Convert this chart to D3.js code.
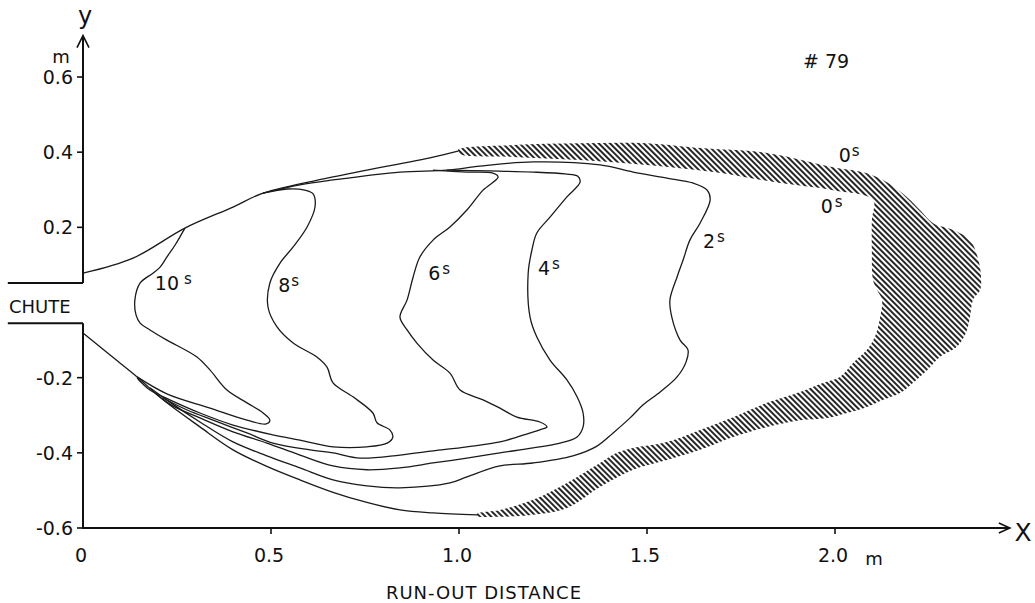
<!DOCTYPE html>
<html>
<head>
<meta charset="utf-8">
<script src="https://cdn.jsdelivr.net/npm/d3@7"></script>
<style>
  body { margin: 0; background: #fff; }
  svg text { font-family: "DejaVu Sans", sans-serif; fill: #111; }
</style>
</head>
<body>
<svg id="chart" width="1035" height="603"></svg>
<script>
// axis ticks
var xTicks = [0, 0.5, 1.0, 1.5, 2.0];
var xTickLabels = ["0", "0.5", "1.0", "1.5", "2.0"];
var yTicks = [0.6, 0.4, 0.2, -0.2, -0.4, -0.6];
var yTickLabels = ["0.6", "0.4", "0.2", "-0.2", "-0.4", "-0.6"];

// chute walls (m)
var chuteUpper = [[-0.2, 0.052], [0, 0.052]];
var chuteLower = [[-0.2, -0.055], [0, -0.055]];

// outer flow boundary leaving the chute
var envelopeUpper = [[0, 0.078], [0.133, 0.118], [0.271, 0.198], [0.399, 0.254], [0.479, 0.291],
  [0.665, 0.334], [0.931, 0.387], [0.997, 0.403]];
var envelopeLower = [[0, -0.081], [0.072, -0.140], [0.144, -0.198], [0.213, -0.259], [0.311, -0.331],
  [0.399, -0.392], [0.489, -0.436], [0.577, -0.472], [0.665, -0.505], [0.755, -0.532],
  [0.843, -0.552], [0.931, -0.560], [1.048, -0.565]];

// front position at time t (s)
var front10 = [[0.271, 0.198], [0.245, 0.153], [0.223, 0.121], [0.205, 0.094], [0.186, 0.078],
  [0.152, 0.052], [0.138, 0.007], [0.141, -0.033], [0.152, -0.055], [0.178, -0.073],
  [0.223, -0.100], [0.303, -0.145], [0.338, -0.180], [0.383, -0.233], [0.436, -0.267],
  [0.479, -0.294], [0.497, -0.313], [0.487, -0.323], [0.436, -0.313], [0.338, -0.281],
  [0.223, -0.243], [0.144, -0.198]];
var front8 = [[0.479, 0.291], [0.543, 0.302], [0.590, 0.299], [0.612, 0.289], [0.617, 0.254],
  [0.596, 0.201], [0.559, 0.148], [0.524, 0.105], [0.497, 0.052], [0.492, -0.012],
  [0.516, -0.065], [0.559, -0.108], [0.622, -0.145], [0.649, -0.172], [0.665, -0.214],
  [0.718, -0.251], [0.771, -0.294], [0.782, -0.320], [0.816, -0.339], [0.824, -0.358],
  [0.809, -0.374], [0.755, -0.384], [0.665, -0.384], [0.577, -0.366], [0.505, -0.352],
  [0.399, -0.326], [0.311, -0.294], [0.231, -0.259], [0.178, -0.233], [0.144, -0.201]];
var front6 = [[0.931, 0.352], [1.021, 0.347], [1.090, 0.344], [1.104, 0.334], [1.064, 0.299],
  [1.021, 0.246], [0.976, 0.201], [0.931, 0.166], [0.896, 0.121], [0.878, 0.068],
  [0.862, 0.007], [0.843, -0.039], [0.862, -0.073], [0.888, -0.108], [0.931, -0.153],
  [0.976, -0.188], [1.003, -0.233], [1.064, -0.259], [1.109, -0.281], [1.154, -0.305],
  [1.215, -0.318], [1.234, -0.331], [1.215, -0.339], [1.154, -0.358], [1.109, -0.371],
  [1.021, -0.384], [0.931, -0.395], [0.843, -0.406], [0.737, -0.414], [0.665, -0.400],
  [0.604, -0.392], [0.505, -0.374], [0.436, -0.347], [0.346, -0.313], [0.277, -0.286],
  [0.213, -0.254]];
var front4 = [[0.968, 0.352], [1.082, 0.350], [1.197, 0.347], [1.282, 0.342], [1.316, 0.336],
  [1.322, 0.320], [1.287, 0.281], [1.242, 0.227], [1.207, 0.185], [1.194, 0.140],
  [1.184, 0.078], [1.189, -0.039], [1.207, -0.092], [1.242, -0.153], [1.287, -0.206],
  [1.314, -0.251], [1.330, -0.294], [1.330, -0.331], [1.314, -0.358], [1.269, -0.374],
  [1.197, -0.387], [1.109, -0.400], [1.021, -0.414], [0.931, -0.427], [0.843, -0.440],
  [0.755, -0.445], [0.665, -0.435], [0.577, -0.406], [0.489, -0.374], [0.399, -0.344],
  [0.311, -0.307], [0.239, -0.275], [0.191, -0.241]];
var front2 = [[0.479, 0.291], [0.577, 0.313], [0.665, 0.326], [0.843, 0.347], [0.968, 0.352],
  [1.056, 0.363], [1.197, 0.374], [1.375, 0.366], [1.463, 0.347], [1.553, 0.331],
  [1.622, 0.318], [1.660, 0.299], [1.668, 0.273], [1.641, 0.211], [1.614, 0.166],
  [1.596, 0.113], [1.580, 0.068], [1.561, 0.007], [1.566, -0.039], [1.588, -0.100],
  [1.609, -0.126], [1.604, -0.158], [1.580, -0.198], [1.535, -0.238], [1.489, -0.273],
  [1.455, -0.307], [1.410, -0.347], [1.367, -0.382], [1.303, -0.408], [1.197, -0.427],
  [1.109, -0.435], [1.021, -0.464], [0.976, -0.480], [0.843, -0.493], [0.755, -0.488],
  [0.665, -0.472], [0.577, -0.440], [0.489, -0.408], [0.399, -0.371], [0.311, -0.318],
  [0.231, -0.265], [0.178, -0.227]];

// hatched zone between the two 0 s outlines
var zone0 = [[0.997, 0.406], [1.144, 0.419], [1.322, 0.424], [1.500, 0.424], [1.641, 0.411],
  [1.819, 0.398], [1.995, 0.360], [2.085, 0.344], [2.138, 0.320], [2.191, 0.281],
  [2.226, 0.246], [2.261, 0.211], [2.314, 0.193], [2.359, 0.166], [2.380, 0.118],
  [2.388, 0.073], [2.386, 0.033], [2.367, 0.007], [2.359, -0.039], [2.348, -0.081],
  [2.324, -0.118], [2.279, -0.145], [2.245, -0.180], [2.207, -0.214], [2.173, -0.241],
  [2.128, -0.259], [2.085, -0.278], [2.032, -0.294], [1.979, -0.307], [1.907, -0.313],
  [1.819, -0.331], [1.729, -0.358], [1.641, -0.392], [1.553, -0.419], [1.463, -0.445],
  [1.375, -0.491], [1.287, -0.547], [1.197, -0.565], [1.109, -0.570], [1.048, -0.568],
  [1.048, -0.562], [1.109, -0.552], [1.197, -0.525], [1.287, -0.480], [1.375, -0.427],
  [1.420, -0.400], [1.463, -0.387], [1.553, -0.371], [1.641, -0.339], [1.729, -0.305],
  [1.819, -0.267], [1.907, -0.238], [1.968, -0.214], [2.013, -0.198], [2.048, -0.161],
  [2.085, -0.126], [2.106, -0.092], [2.120, -0.039], [2.125, 0.007], [2.112, 0.033],
  [2.101, 0.060], [2.098, 0.140], [2.098, 0.219], [2.101, 0.273], [1.995, 0.299],
  [1.854, 0.318], [1.676, 0.347], [1.500, 0.366], [1.322, 0.379], [1.144, 0.387],
  [1.003, 0.395]];

// time labels: number, position of the number (m)
var timeLabels = [
  { t: "10", x: 0.191, y: 0.033, gap: 5 },
  { t: "8", x: 0.519, y: 0.028, gap: 1 },
  { t: "6", x: 0.918, y: 0.060, gap: 2 },
  { t: "4", x: 1.210, y: 0.073, gap: 2 },
  { t: "2", x: 1.649, y: 0.145, gap: 2 },
  { t: "0", x: 2.010, y: 0.374, gap: 1 },
  { t: "0", x: 1.962, y: 0.238, gap: 2 }
];

var svg = d3.select("#chart");

var x = d3.scaleLinear().domain([0, 2]).range([83, 835]);
var y = d3.scaleLinear().domain([-0.6, 0.6]).range([528, 77]);

var line = d3.line()
  .x(function (d) { return x(d[0]); })
  .y(function (d) { return y(d[1]); })
  .curve(d3.curveCatmullRom.alpha(0.5));

var straight = d3.line()
  .x(function (d) { return x(d[0]); })
  .y(function (d) { return y(d[1]); });

var zoneShape = d3.line()
  .x(function (d) { return x(d[0]); })
  .y(function (d) { return y(d[1]); })
  .curve(d3.curveCatmullRomClosed.alpha(0.5));

svg.append("rect").attr("width", 1035).attr("height", 603).attr("fill", "#fff");

// hatch pattern
svg.append("defs")
  .append("pattern")
  .attr("id", "hatch")
  .attr("patternUnits", "userSpaceOnUse")
  .attr("width", 4)
  .attr("height", 4)
  .attr("patternTransform", "rotate(-45)")
  .append("line")
  .attr("x1", 2).attr("y1", -1)
  .attr("x2", 2).attr("y2", 5)
  .attr("stroke", "#000")
  .attr("stroke-width", 1.7);

svg.append("path")
  .datum(zone0)
  .attr("d", zoneShape)
  .attr("fill", "url(#hatch)");

// contour lines
[envelopeUpper, envelopeLower, front2, front4, front6, front8, front10].forEach(function (c) {
  svg.append("path")
    .datum(c)
    .attr("d", line)
    .attr("fill", "none")
    .attr("stroke", "#1a1a1a")
    .attr("stroke-width", 1.3)
    .attr("stroke-linejoin", "round");
});

// chute walls
[chuteUpper, chuteLower].forEach(function (c) {
  svg.append("path")
    .datum(c)
    .attr("d", straight)
    .attr("fill", "none")
    .attr("stroke", "#111")
    .attr("stroke-width", 2);
});

// axes
var axisColor = "#111";
var yTop = 0.71, xEnd = 2.465;

svg.append("line")
  .attr("x1", x(0)).attr("x2", x(0))
  .attr("y1", y(chuteUpper[0][1])).attr("y2", y(yTop))
  .attr("stroke", axisColor).attr("stroke-width", 2);
svg.append("line")
  .attr("x1", x(0)).attr("x2", x(0))
  .attr("y1", y(chuteLower[0][1])).attr("y2", y(-0.6) + 1)
  .attr("stroke", axisColor).attr("stroke-width", 2);
svg.append("path")
  .attr("d", "M" + (x(0) - 6) + "," + (y(yTop) + 12) + "L" + x(0) + "," + y(yTop) + "L" + (x(0) + 6) + "," + (y(yTop) + 12))
  .attr("fill", "none").attr("stroke", axisColor).attr("stroke-width", 1.6);

svg.append("line")
  .attr("x1", x(0)).attr("x2", x(xEnd))
  .attr("y1", y(-0.6)).attr("y2", y(-0.6))
  .attr("stroke", axisColor).attr("stroke-width", 2);
svg.append("path")
  .attr("d", "M" + (x(xEnd) - 11) + "," + (y(-0.6) - 5) + "L" + x(xEnd) + "," + y(-0.6) + "L" + (x(xEnd) - 11) + "," + (y(-0.6) + 5))
  .attr("fill", "none").attr("stroke", axisColor).attr("stroke-width", 1.6);

// y ticks
yTicks.forEach(function (v, i) {
  svg.append("line")
    .attr("x1", x(0) - 6).attr("x2", x(0))
    .attr("y1", y(v)).attr("y2", y(v))
    .attr("stroke", axisColor).attr("stroke-width", 1.6);
  svg.append("text")
    .attr("x", x(0) - 10)
    .attr("y", y(v) + 7)
    .attr("text-anchor", "end")
    .attr("font-size", "19px")
    .text(yTickLabels[i]);
});

// x ticks
xTicks.forEach(function (v, i) {
  if (v > 0) {
    svg.append("line")
      .attr("x1", x(v)).attr("x2", x(v))
      .attr("y1", y(-0.6)).attr("y2", y(-0.6) + 6)
      .attr("stroke", axisColor).attr("stroke-width", 1.6);
  }
  svg.append("text")
    .attr("x", x(v) - 2)
    .attr("y", 562)
    .attr("text-anchor", "middle")
    .attr("font-size", "19px")
    .text(xTickLabels[i]);
});

// axis names and units
svg.append("text").attr("x", x(0) + 2).attr("y", 24).attr("text-anchor", "middle").attr("font-size", "24px").text("y");
svg.append("text").attr("x", 61).attr("y", 63).attr("text-anchor", "middle").attr("font-size", "18px").text("m");
svg.append("text").attr("x", 874).attr("y", 565).attr("text-anchor", "middle").attr("font-size", "18px").text("m");
svg.append("text").attr("x", 1023).attr("y", 541).attr("text-anchor", "middle").attr("font-size", "25px").text("X");
svg.append("text").attr("x", 484).attr("y", 599).attr("text-anchor", "middle").attr("font-size", "18px")
  .attr("letter-spacing", "1px").text("RUN-OUT DISTANCE");
svg.append("text").attr("x", 9).attr("y", 313).attr("font-size", "18px").text("CHUTE");
svg.append("text").attr("x", x(1.915)).attr("y", y(0.624)).attr("font-size", "19px").text("# 79");

// time labels
timeLabels.forEach(function (d) {
  var t = svg.append("text")
    .attr("x", x(d.x))
    .attr("y", y(d.y))
    .attr("font-size", "19px");
  t.append("tspan").text(d.t);
  t.append("tspan")
    .attr("dx", d.gap)
    .attr("dy", -6)
    .attr("font-size", "15px")
    .text("s");
});
</script>
</body>
</html>
